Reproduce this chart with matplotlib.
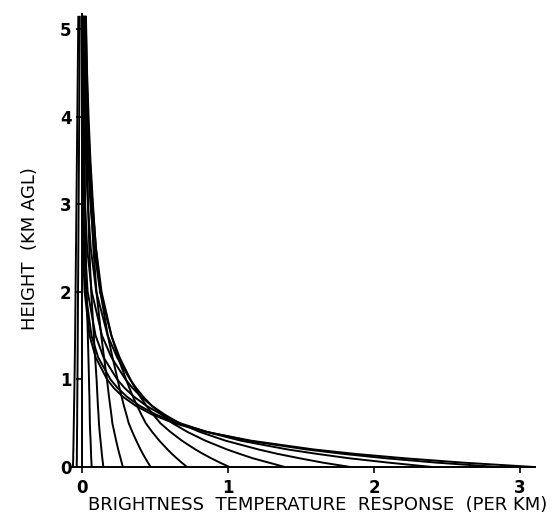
import matplotlib.pyplot as plt

heights = [0, 0.05, 0.1, 0.15, 0.2, 0.3, 0.4, 0.5, 0.6, 0.7, 0.8, 0.9, 1.0, 1.25, 1.5, 2.0, 2.5, 3.0, 3.5, 4.0, 4.5, 5.15]

# Antwort (pro km) je Kurve
resp_310 = [3.10, 2.61, 2.21, 1.87, 1.59, 1.16, 0.85, 0.63, 0.479, 0.367, 0.282, 0.219, 0.172, 0.094, 0.052, 0.018, 0.007, 0.003, 0.001, 0.0005, 0.0002, 0.0001]
resp_285 = [2.85, 2.43, 2.08, 1.79, 1.54, 1.14, 0.86, 0.65, 0.505, 0.394, 0.310, 0.245, 0.195, 0.111, 0.065, 0.024, 0.010, 0.005, 0.0025, 0.0013, 0.0007, 0.0003]
resp_240 = [2.40, 2.10, 1.83, 1.61, 1.41, 1.09, 0.855, 0.673, 0.544, 0.440, 0.358, 0.293, 0.241, 0.148, 0.093, 0.039, 0.018, 0.009, 0.005, 0.003, 0.002, 0.001]
resp_184 = [1.84, 1.65, 1.49, 1.34, 1.21, 0.985, 0.808, 0.667, 0.565, 0.478, 0.406, 0.347, 0.298, 0.202, 0.137, 0.067, 0.035, 0.021, 0.013, 0.008, 0.006, 0.004]
resp_139 = [1.39, 1.28, 1.17, 1.08, 0.994, 0.846, 0.723, 0.620, 0.545, 0.478, 0.421, 0.372, 0.329, 0.241, 0.176, 0.098, 0.060, 0.040, 0.027, 0.018, 0.012, 0.008]
resp_101 = [1.01, 0.945, 0.885, 0.829, 0.777, 0.685, 0.606, 0.537, 0.487, 0.441, 0.400, 0.363, 0.332, 0.258, 0.201, 0.124, 0.083, 0.058, 0.041, 0.030, 0.021, 0.015]
resp_072 = [0.72, 0.683, 0.649, 0.616, 0.586, 0.530, 0.481, 0.437, 0.406, 0.377, 0.350, 0.325, 0.302, 0.247, 0.202, 0.134, 0.096, 0.072, 0.054, 0.040, 0.030, 0.022]
resp_047 = [0.47, 0.452, 0.434, 0.417, 0.401, 0.372, 0.345, 0.320, 0.304, 0.287, 0.272, 0.257, 0.244, 0.209, 0.177, 0.126, 0.095, 0.075, 0.058, 0.045, 0.035, 0.027]
resp_028 = [0.28, 0.272, 0.264, 0.256, 0.248, 0.234, 0.221, 0.208, 0.201, 0.193, 0.185, 0.178, 0.171, 0.151, 0.132, 0.099, 0.078, 0.063, 0.050, 0.041, 0.033, 0.025]
resp_015 = [0.146, 0.143, 0.139, 0.136, 0.133, 0.127, 0.121, 0.116, 0.113, 0.109, 0.106, 0.103, 0.100, 0.090, 0.081, 0.063, 0.050, 0.042, 0.035, 0.028, 0.023, 0.018]
resp_007 = [0.066, 0.065, 0.063, 0.062, 0.061, 0.059, 0.056, 0.054, 0.053, 0.052, 0.051, 0.049, 0.048, 0.044, 0.040, 0.032, 0.026, 0.021, 0.018, 0.015, 0.013, 0.010]
resp_neg1 = [-0.062, -0.061, -0.060, -0.060, -0.059, -0.058, -0.057, -0.056, -0.055, -0.054, -0.053, -0.052, -0.051, -0.049, -0.047, -0.044, -0.041, -0.038, -0.035, -0.032, -0.029, -0.025]
resp_neg2 = [-0.036, -0.036, -0.035, -0.035, -0.035, -0.034, -0.034, -0.033, -0.033, -0.0325, -0.032, -0.0315, -0.031, -0.030, -0.029, -0.027, -0.025, -0.023, -0.021, -0.019, -0.017, -0.015]

curves = [resp_310, resp_285, resp_240, resp_184, resp_139, resp_101, resp_072,
          resp_047, resp_028, resp_015, resp_007, resp_neg1, resp_neg2]

x_ticks = [0, 1, 2, 3]
y_ticks = [0, 1, 2, 3, 4, 5]

fig = plt.figure(figsize=(5.56, 5.21), dpi=100)
ax = fig.add_axes([0.1212, 0.0952, 0.8666, 0.8912])

for c in curves:
    ax.plot(c, heights, color='black', linewidth=1.4, solid_capstyle='butt')

ax.set_xlim(-0.1, 3.2)
ax.set_ylim(-0.05, 5.25)

# Achsen wie im Original: nur links und unten
ax.spines['top'].set_visible(False)
ax.spines['right'].set_visible(False)
ax.spines['left'].set_position(('data', 0))
ax.spines['bottom'].set_position(('data', 0))
ax.spines['left'].set_bounds(0, 5.17)
ax.spines['bottom'].set_bounds(-0.065, 3.1)
ax.spines['left'].set_linewidth(1.4)
ax.spines['bottom'].set_linewidth(1.4)

ax.set_xticks(x_ticks)
ax.set_yticks(y_ticks)
ax.set_xticklabels([str(t) for t in x_ticks], fontsize=12, fontweight='bold')
ax.set_yticklabels([str(t) for t in y_ticks], fontsize=12, fontweight='bold')
ax.tick_params(axis='both', direction='out', length=4.5, width=1.2, colors='black')
ax.tick_params(axis='x', pad=4)
ax.tick_params(axis='y', pad=3)

fig.text(0.572, 0.031, 'BRIGHTNESS  TEMPERATURE  RESPONSE  (PER KM)',
         ha='center', va='center', fontsize=13)
fig.text(0.054, 0.522, 'HEIGHT  (KM AGL)', rotation=90,
         ha='center', va='center', fontsize=13)

fig.savefig('out.png', dpi=100)
